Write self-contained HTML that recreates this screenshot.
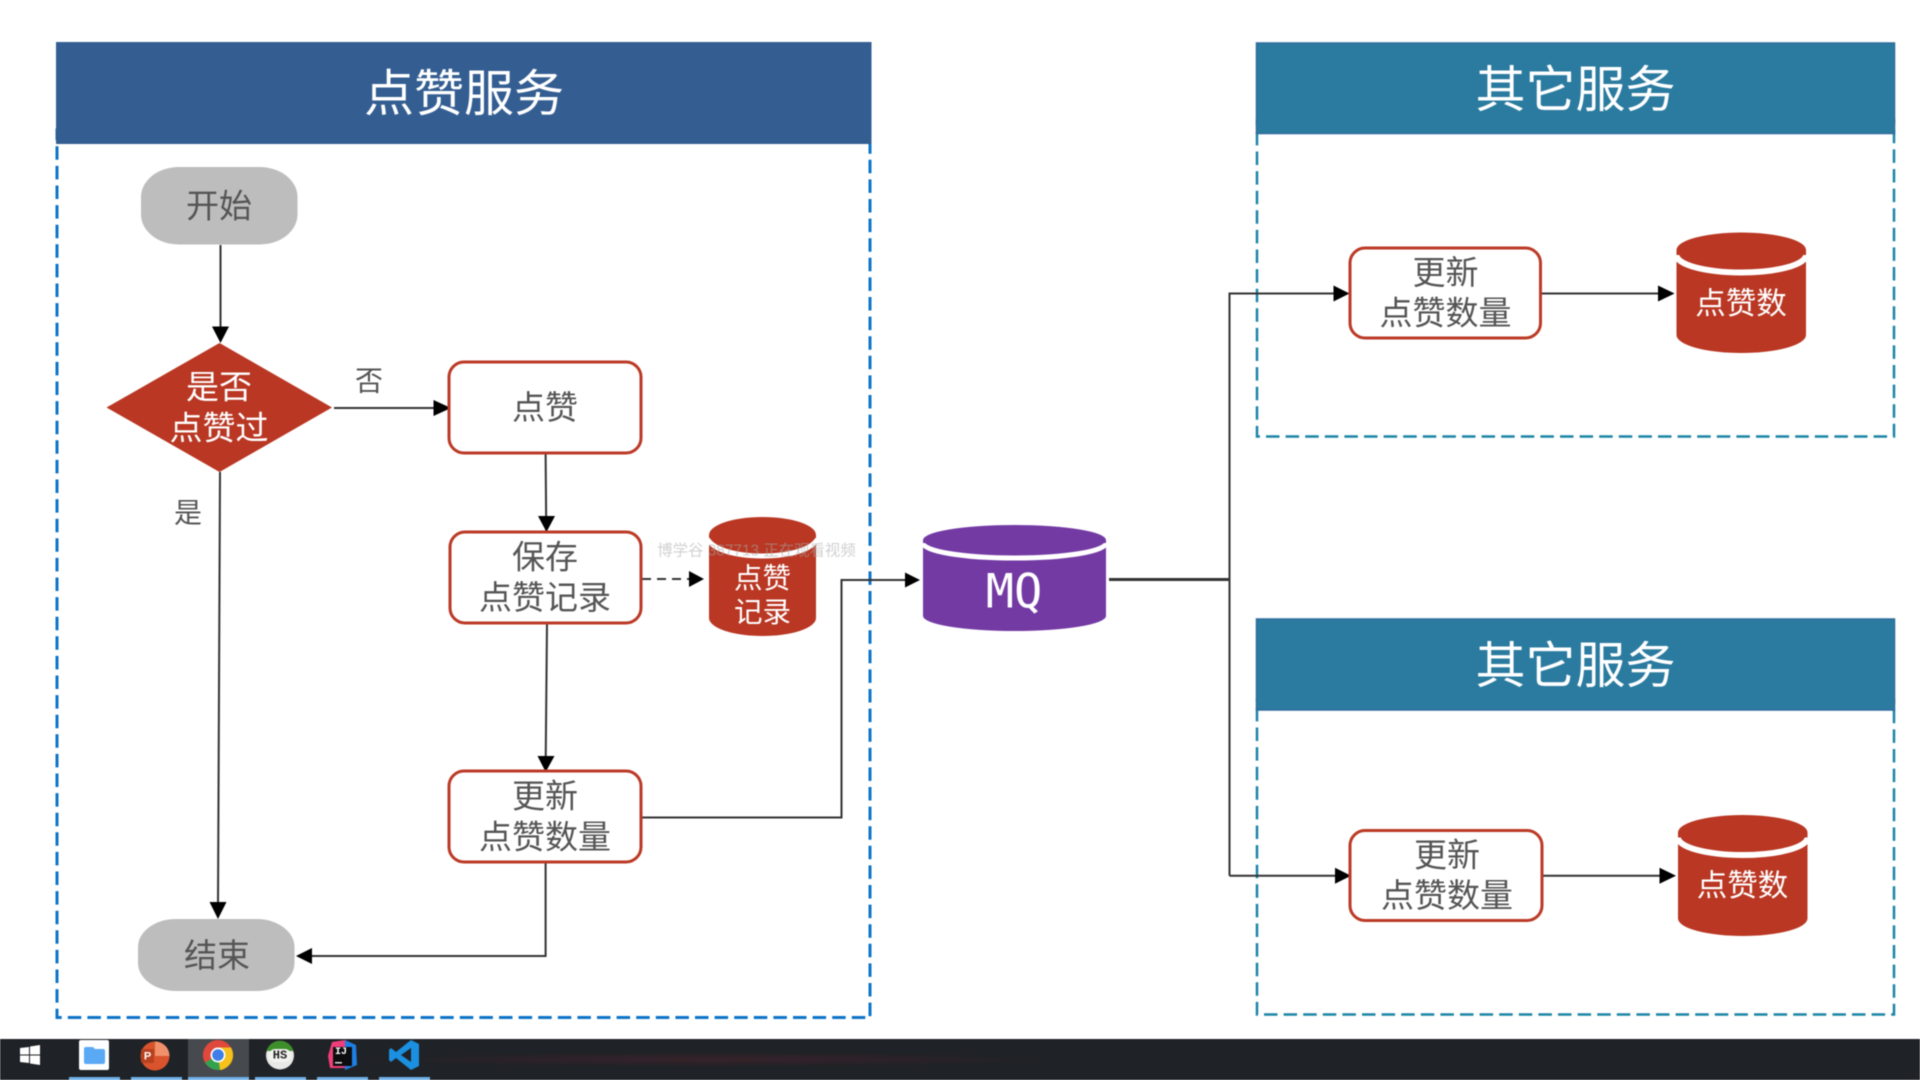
<!DOCTYPE html>
<html lang="zh"><head><meta charset="utf-8"><title>点赞服务</title>
<style>
html,body{margin:0;padding:0;background:#fff;width:1920px;height:1080px;overflow:hidden}
svg{display:block;filter:blur(.6px)}
text{font-family:"Liberation Sans","Noto Sans CJK SC",sans-serif;text-anchor:middle;dominant-baseline:central}
.d{fill:#555;font-size:33px}.w{fill:#fff;font-size:33px}.h{fill:#fff;font-size:50px;font-weight:400}
.l{stroke:#333;stroke-width:2;fill:none}.b{fill:#fff;stroke:#bb3a26;stroke-width:3}
.r{fill:#b93723}.g{fill:#bdbdbd}
.u{fill:#6fb1e8}
</style></head><body>
<svg width="1920" height="1080" viewBox="0 0 1920 1080" xmlns="http://www.w3.org/2000/svg">
<defs><radialGradient id="tb" cx=".37" cy=".5" r=".18"><stop offset="0" stop-color="#38222a"/><stop offset="1" stop-color="#1f2226"/></radialGradient></defs>

<!-- panels -->
<rect x="57" y="130" width="813" height="887.500" fill="none" stroke="#0d74c8" stroke-width="3" stroke-dasharray="13.500 6.100"/>
<rect x="56" y="42" width="815.500" height="102" fill="#345e92"/>
<text class="h" x="464" y="94">点赞服务</text>

<rect x="1257" y="120" width="637" height="316.500" fill="none" stroke="#1a85a5" stroke-width="2.500" stroke-dasharray="13.500 6.100"/>
<rect x="1256.500" y="43" width="638" height="90.500" fill="#2b7ba0" stroke="#2f6c9c" stroke-width="1.500"/>
<text class="h" x="1575.500" y="90">其它服务</text>

<rect x="1257" y="700" width="637" height="314.500" fill="none" stroke="#1a85a5" stroke-width="2.500" stroke-dasharray="13.500 6.100"/>
<rect x="1256.500" y="619" width="638" height="91" fill="#2b7ba0" stroke="#2f6c9c" stroke-width="1.500"/>
<text class="h" x="1575.500" y="666">其它服务</text>

<!-- connectors -->
<path class="l" d="M220.500 245V330"/><polygon points="212,326.500 229,326.500 220.500,343"/>
<path class="l" stroke-width="2.500" d="M334 408H436"/><polygon points="433.500,400 433.500,416 451,408"/>
<path class="l" d="M545.600 453L546.300 535"/><polygon points="538,516 555,516 546.500,532"/>
<path class="l" d="M220 472L218 905"/><polygon points="209.500,902 226.500,902 218,919"/>
<path class="l" d="M547 623L545.700 760"/><polygon points="537.500,756 554.500,756 545.700,772"/>
<path class="l" stroke-dasharray="9 6" stroke-width="2.500" d="M642 579H690"/><polygon points="689,571 689,587 704,579"/>
<path class="l" d="M641 817.500H841.500V580H907"/><polygon points="905,572.500 905,587.500 920,580"/>
<path class="l" d="M545.600 862V956H310"/><polygon points="312,948 312,964 296,956"/>
<path class="l" style="stroke-width:3" d="M1109 579.500H1229.500"/>
<path class="l" d="M1229.500 875.700V293.500H1336"/><polygon points="1333.500,285.500 1333.500,301.500 1349.500,293.500"/>
<path class="l" d="M1229.500 875.700H1336"/><polygon points="1335,867.700 1335,883.700 1351,875.700"/>
<path class="l" d="M1541 293.500H1660"/><polygon points="1658,285.500 1658,301.500 1674.600,293.500"/>
<path class="l" d="M1543 875.700H1661"/><polygon points="1659.500,867.700 1659.500,883.700 1676,875.700"/>

<!-- left flow -->
<rect class="g" x="141" y="167" width="156.500" height="77.500" rx="38" ry="30"/>
<text class="d" x="219" y="206">开始</text>
<polygon class="r" points="219.500,343 332,407.500 219.500,472 106.500,407.500"/>
<text class="w" x="219" y="387">是否</text><text class="w" x="219" y="428">点赞过</text>
<text class="d" x="369" y="381" style="font-size:28px">否</text>
<text class="d" x="188" y="513" style="font-size:28px">是</text>
<rect class="b" x="449" y="362" width="192" height="91" rx="15"/>
<text class="d" x="545" y="407.500">点赞</text>
<rect class="b" x="450" y="532" width="191" height="91" rx="15"/>
<text class="d" x="545" y="557">保存</text><text class="d" x="545" y="597.500">点赞记录</text>
<rect class="b" x="449" y="771" width="192" height="91" rx="15"/>
<text class="d" x="545" y="796">更新</text><text class="d" x="545" y="837">点赞数量</text>
<rect class="g" x="138" y="919" width="156.500" height="72" rx="38" ry="28"/>
<text class="d" x="217" y="955.500">结束</text>

<!-- cyl: 点赞记录 -->
<path class="r" d="M709 535V618A53.500 18 0 0 0 816 618V535Z"/>
<path d="M709 538A53.500 18 0 0 0 816 538" fill="none" stroke="#fff" stroke-width="5"/>
<ellipse class="r" cx="762.500" cy="535" rx="53.500" ry="18"/>
<text class="w" style="font-size:28.500px" x="762.500" y="579">点赞</text>
<text class="w" style="font-size:28.500px" x="762.500" y="613">记录</text>
<text x="756.500" y="551" style="font-size:15.400px" fill="#aaa" fill-opacity=".55">博学谷 387713 正在观看视频</text>

<!-- MQ -->
<path fill="#733aa4" d="M923 540V616A91.500 15 0 0 0 1106 616V540Z"/>
<path d="M923 543A91.500 15 0 0 0 1106 543" fill="none" stroke="#fff" stroke-width="5"/>
<ellipse fill="#733aa4" cx="1014.500" cy="540" rx="91.500" ry="15"/>
<text x="1014" y="592" style="font-family:'DejaVu Sans Mono','Liberation Mono',monospace;font-size:47px" fill="#fff">MQ</text>

<!-- right 1 -->
<rect class="b" x="1350" y="248" width="190.500" height="90" rx="15"/>
<text class="d" x="1445.500" y="272.500">更新</text><text class="d" x="1445.500" y="313">点赞数量</text>
<path class="r" d="M1676.500 250V335A64.750 18 0 0 0 1806 335V250Z"/>
<path d="M1676.500 255A64.750 17.500 0 0 0 1806 255" fill="none" stroke="#fff" stroke-width="6"/>
<ellipse class="r" cx="1741.250" cy="250" rx="64.750" ry="17.500"/>
<text class="w" style="font-size:30.500px" x="1741" y="304">点赞数</text>

<!-- right 2 -->
<rect class="b" x="1350" y="830.500" width="192" height="90" rx="15"/>
<text class="d" x="1447" y="855">更新</text><text class="d" x="1447" y="895.500">点赞数量</text>
<path class="r" d="M1678 832.500V918.500A64.750 17.500 0 0 0 1807.500 918.500V832.500Z"/>
<path d="M1678 837.500A64.750 17.500 0 0 0 1807.500 837.500" fill="none" stroke="#fff" stroke-width="6"/>
<ellipse class="r" cx="1742.750" cy="832.500" rx="64.750" ry="17.500"/>
<text class="w" style="font-size:30.500px" x="1742.500" y="886">点赞数</text>

<!-- taskbar -->
<rect x="0" y="1039" width="1920" height="41" fill="url(#tb)"/>
<rect x="188" y="1039" width="61" height="41" fill="#46494d"/>
<rect class="u" x="69" y="1077" width="51" height="3"/><rect class="u" x="131" y="1077" width="51" height="3"/>
<rect class="u" x="188" y="1077" width="61" height="3"/><rect class="u" x="255" y="1077" width="51" height="3"/>
<rect class="u" x="317" y="1077" width="51" height="3"/><rect class="u" x="379" y="1077" width="51" height="3"/>
<!-- windows -->
<polygon fill="#fff" points="20,1048 29,1047 29,1054.500 20,1054.500"/><polygon fill="#fff" points="30,1046.500 40,1045 40,1054.500 30,1054.500"/>
<polygon fill="#fff" points="20,1055.500 29,1055.500 29,1063 20,1062"/><polygon fill="#fff" points="30,1055.500 40,1055.500 40,1065 30,1063.500"/>
<!-- files -->
<rect x="79" y="1040" width="30" height="30" rx="2" fill="#fdfeff"/>
<path d="M84 1049q0-2 2-2h7l2 2h8q2 0 2 2v11q0 2-2 2H86q-2 0-2-2Z" fill="#5aa9f5"/>
<!-- ppt -->
<circle cx="155" cy="1056" r="14.500" fill="#d9532c"/>
<path d="M155 1056V1041.500A14.500 14.500 0 0 1 169.500 1056Z" fill="#f0916c"/>
<rect x="141" y="1049" width="13" height="14" rx="1.500" fill="#b7401f"/>
<text x="147.500" y="1056.500" style="font-size:11px;font-weight:bold" fill="#fff">P</text>
<!-- chrome -->
<circle cx="218" cy="1055" r="15" fill="#e0483c"/>
<path d="M218 1055L205 1062.500A15 15 0 0 0 218 1070H220Z" fill="#31a24f"/>
<path d="M218 1055L220 1070A15 15 0 0 0 231 1047.500H218Z" fill="#f5c11a"/>
<path d="M218 1055V1047.500H205.500L204.500 1048.500A15 15 0 0 0 205 1062.500Z" fill="#e0483c"/>
<circle cx="218" cy="1055" r="7.500" fill="#fff"/><circle cx="218" cy="1055" r="5.800" fill="#3d7fe6"/>
<!-- HS -->
<circle cx="280" cy="1055.500" r="14" fill="#e8e8e6"/>
<path d="M266.500 1051A14 14 0 0 1 293.500 1051Z" fill="#3e8f2c"/>
<rect x="269" y="1049" width="22" height="13" rx="6" fill="#f2f2ef"/>
<text x="280" y="1055.500" style="font-size:12px;font-weight:bold;font-family:'Liberation Mono',monospace" fill="#222">HS</text>
<!-- IJ -->
<polygon points="332,1042 345,1040 345,1068 330,1068 328,1056" fill="#ef3f7b"/>
<polygon points="345,1040 356,1045 357,1065 345,1070" fill="#1d7fe2"/>
<rect x="333" y="1047" width="19" height="19" fill="#0d0d0f"/>
<text x="341" y="1052.500" style="font-size:10px;font-weight:bold;font-family:'Liberation Mono',monospace" fill="#fff">IJ</text>
<rect x="335" y="1062" width="7" height="1.500" fill="#ddd"/>
<!-- vscode -->
<path d="M411 1040L419 1044V1066L411 1070L396 1058L391 1062L389 1060V1050L391 1048L396 1052Z M411 1048L401 1055L411 1062Z" fill="#1b8fe0" fill-rule="evenodd"/>
</svg>
</body></html>
